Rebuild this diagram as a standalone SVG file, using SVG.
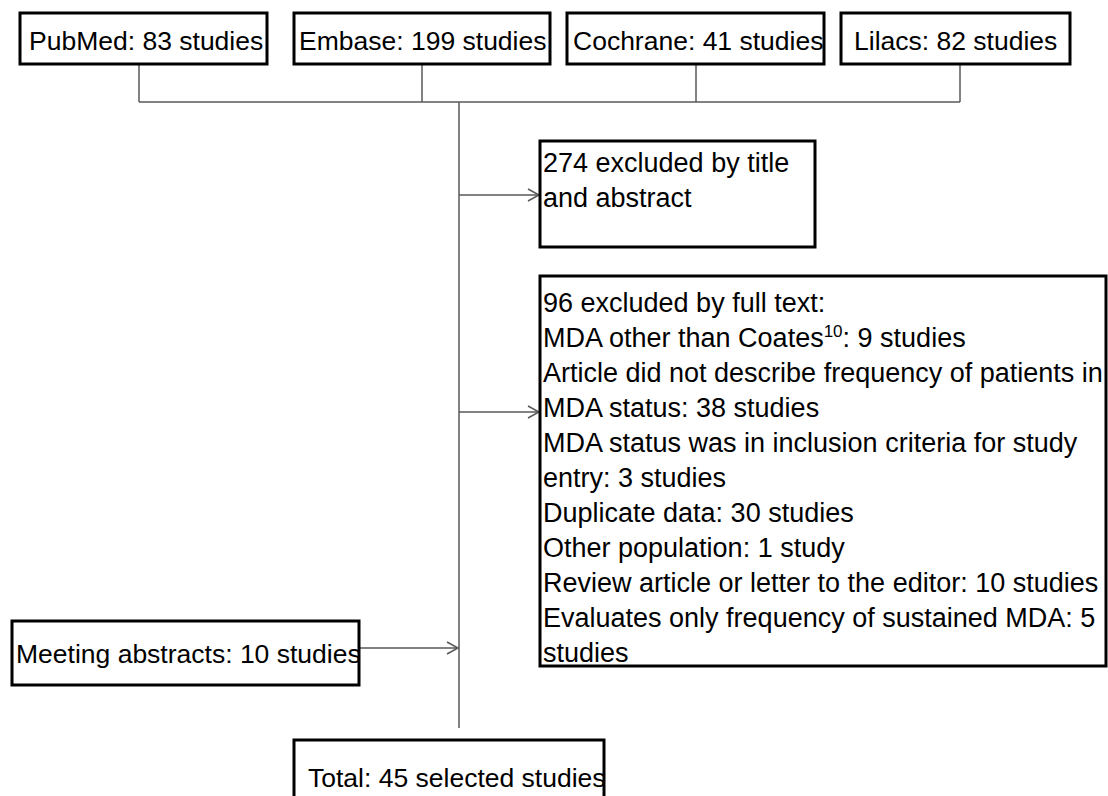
<svg xmlns="http://www.w3.org/2000/svg" width="1108" height="796" viewBox="0 0 1108 796">
<style>
.box{fill:#fff;stroke:#000;stroke-width:3}
.t{font-family:"Liberation Sans",Arial,sans-serif;font-size:26.5px;fill:#000}
.b{font-size:27px}
.sup{font-size:17px}
.c{fill:none;stroke:#595959;stroke-width:1.5}
</style>
<defs>
<marker id="arr" markerUnits="userSpaceOnUse" markerWidth="14" markerHeight="14" viewBox="-12 -7 14 14" refX="0" refY="0" orient="auto">
<path d="M-11,-6 L0,0 L-11,6" fill="none" stroke="#595959" stroke-width="1.5"/>
</marker>
</defs>
<rect width="1108" height="796" fill="#fff"/>
<g id="connectors">
<path class="c" d="M139,64 V102 M422,64 V102 M696,64 V102 M960,64 V102 M139,102 H960"/>
<path class="c" d="M459,102 V728"/>
<path class="c" d="M459,195 H539" marker-end="url(#arr)"/>
<path class="c" d="M459,412 H539" marker-end="url(#arr)"/>
<path class="c" d="M359,648 H458" marker-end="url(#arr)"/>
</g>
<g id="pubmed">
<rect class="box" x="20" y="13" width="247" height="51"/>
<text class="t" x="29" y="50">PubMed: 83 studies</text>
</g>
<g id="embase">
<rect class="box" x="294" y="13" width="256" height="51"/>
<text class="t" x="299" y="50">Embase: 199 studies</text>
</g>
<g id="cochrane">
<rect class="box" x="567" y="13" width="257" height="51"/>
<text class="t" x="573" y="50">Cochrane: 41 studies</text>
</g>
<g id="lilacs">
<rect class="box" x="841" y="13" width="229" height="51"/>
<text class="t" x="854" y="50">Lilacs: 82 studies</text>
</g>
<g id="excluded-title">
<rect class="box" x="540" y="141" width="275" height="106"/>
<text class="t b" x="543" y="172">274 excluded by title</text>
<text class="t b" x="543" y="207">and abstract</text>
</g>
<g id="excluded-fulltext">
<rect class="box" x="540" y="276" width="566" height="390"/>
<text class="t b" x="543" y="312">96 excluded by full text:</text>
<text class="t b" x="543" y="347">MDA other than Coates<tspan class="sup" dy="-10">10</tspan><tspan dy="10">: 9 studies</tspan></text>
<text class="t b" x="543" y="382">Article did not describe frequency of patients in</text>
<text class="t b" x="543" y="417">MDA status: 38 studies</text>
<text class="t b" x="543" y="452">MDA status was in inclusion criteria for study</text>
<text class="t b" x="543" y="487">entry: 3 studies</text>
<text class="t b" x="543" y="522">Duplicate data: 30 studies</text>
<text class="t b" x="543" y="557">Other population: 1 study</text>
<text class="t b" x="543" y="592">Review article or letter to the editor: 10 studies</text>
<text class="t b" x="543" y="627">Evaluates only frequency of sustained MDA: 5</text>
<text class="t b" x="543" y="662">studies</text>
</g>
<g id="meeting">
<rect class="box" x="12" y="621" width="347" height="64"/>
<text class="t" x="16" y="663">Meeting abstracts: 10 studies</text>
</g>
<g id="total">
<rect class="box" x="294" y="740" width="310" height="70"/>
<text class="t" x="308" y="787">Total: 45 selected studies</text>
</g>
</svg>
